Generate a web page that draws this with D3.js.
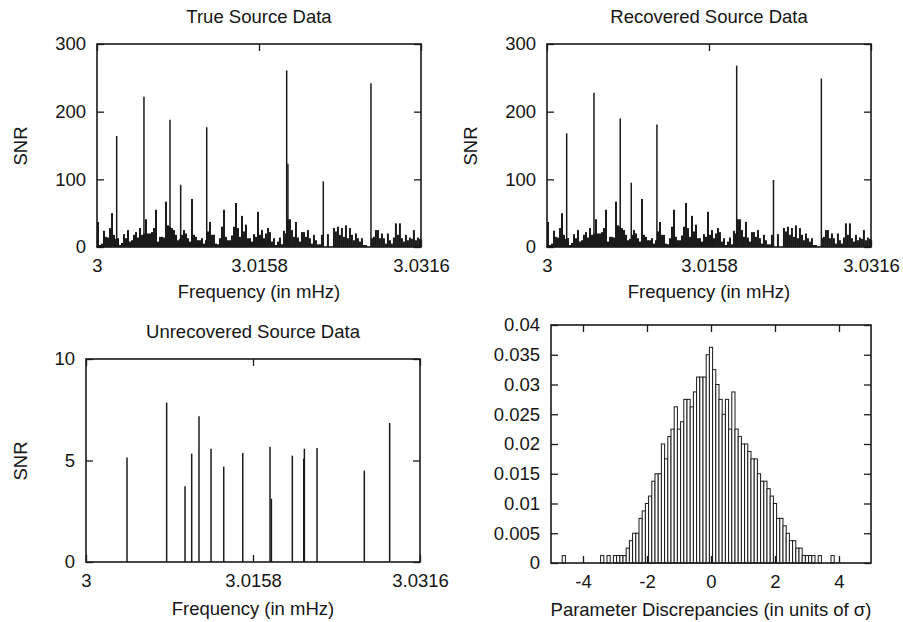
<!DOCTYPE html>
<html>
<head>
<meta charset="utf-8">
<script src="https://cdn.jsdelivr.net/npm/d3@7"></script>
<style>
  body { margin: 0; background: #fff; }
  text { font-family: "Liberation Sans", Arial, sans-serif; font-size: 18.5px; fill: #151515; }
</style>
</head>
<body>
<svg width="903" height="622"></svg>
<script>
// spectrum background: SNR per frequency bin (shared by true and recovered)
var noiseStart = 3.0001;
var noiseStep = 0.000195;
var noiseSNR = [37,3,5,24,15,14,28,50,18,12, 13,3,6,19,13,25,8,10,18,22,
  14,28,18,20,41,20,20,22,28,55, 8,15,15,14,67,32,30,28,25,18,
  10,12,18,25,20,13,8,71,18,15, 10,10,13,5,10,23,37,18,18,5,
  4,13,30,55,15,10,10,17,30,65, 28,15,46,23,33,13,13,8,19,15,
  52,18,25,13,20,28,22,8,13,3, 8,14,4,24,20,41,41,25,15,37,
  14,8,22,22,15,25,13,5,18,10, 4,4,18,0,0,19,0,0,28,23,
  30,18,28,15,32,13,28,18,10,20, 13,8,13,3,3,0,0,13,15,25,
  25,13,20,13,5,20,10,5,14,35, 18,35,13,8,18,10,14,12,25,10,
  14,12];

// bright sources
var truePeakFreq = [3.00192, 3.00458, 3.00712, 3.00816, 3.01070, 3.01850, 3.01862, 3.02207, 3.02672];
var truePeakSNR  = [164, 222, 188, 92, 177, 261, 123, 97, 242];
var recPeakFreq  = [3.00192, 3.00458, 3.00714, 3.00822, 3.01072, 3.01850, 3.02209, 3.02676];
var recPeakSNR   = [168, 228, 190, 95, 181, 268, 99, 249];

// unrecovered sources
var unrecFreq = [3.00388, 3.00763, 3.00937, 3.01000, 3.01069, 3.01183, 3.01303, 3.01483,
  3.01741, 3.01754, 3.01952, 3.02060, 3.02066, 3.02186, 3.02633, 3.02873];
var unrecSNR = [5.15, 7.85, 3.73, 5.34, 7.18, 5.58, 4.70, 5.37, 5.68, 3.12, 5.24, 5.09, 5.58, 5.62, 4.50, 6.85];

// histogram of parameter discrepancies (bin centres, width 0.1)
var histBin = [-4.6,-3.4,-3.2,-3.0,-2.9,-2.8,-2.7,-2.6,-2.5,-2.4,-2.3,-2.2,-2.1,-2.0,-1.9,-1.8,-1.7,-1.6,
  -1.5,-1.4,-1.3,-1.2,-1.1,-1.0,-0.9,-0.8,-0.7,-0.6,-0.5,-0.4,-0.3,-0.2,-0.1,0.0,
  0.1,0.2,0.3,0.4,0.5,0.6,0.7,0.8,0.9,1.0,1.1,1.2,1.3,1.4,1.5,1.6,1.7,1.8,1.9,2.0,
  2.1,2.2,2.3,2.4,2.5,2.6,2.7,2.8,2.9,3.0,3.1,3.2,3.4,3.8];
var histFreq = [0.00125,0.00125,0.00125,0.00125,0.00125,0.00125,0.00125,0.0025,0.00375,0.005,0.005,0.0075,0.00875,0.01,0.01125,0.01375,0.015,0.015,
  0.02,0.0175,0.02125,0.0225,0.02625,0.0225,0.02375,0.0275,0.0275,0.02625,0.02875,0.03125,0.03125,0.03125,0.035,0.03625,
  0.0325,0.03,0.0275,0.025,0.0275,0.0225,0.02875,0.0225,0.02125,0.02,0.02,0.01875,0.0175,0.0175,0.015,0.01375,0.01375,0.0125,0.01125,0.01,
  0.0075,0.0075,0.00625,0.005,0.00375,0.00375,0.0025,0.0025,0.00125,0.00125,0.00125,0.00125,0.00125,0.00125];
var histWidth = 0.1;

// tick labels
var freqTicks = [3, 3.0158, 3.0316];
var snrTicksBig = [0, 100, 200, 300];
var snrTicksSmall = [0, 5, 10];
var histXTicks = [-4, -2, 0, 2, 4];
var histYTicks = [0, 0.005, 0.01, 0.015, 0.02, 0.025, 0.03, 0.035, 0.04];

var svg = d3.select('svg');
var ink = '#1a1a1a';
var tickLen = 7;
var plain = function (d) { return String(d); };

function frame(x, y) {
  svg.append('rect')
    .attr('x', x.range()[0]).attr('y', y.range()[1])
    .attr('width', x.range()[1] - x.range()[0])
    .attr('height', y.range()[0] - y.range()[1])
    .attr('fill', 'none').attr('stroke', ink).attr('stroke-width', 1.6);
}

function axes(x, y, xt, yt) {
  var x0 = x.range()[0], x1 = x.range()[1], y0 = y.range()[0], y1 = y.range()[1];
  var list = [
    [d3.axisBottom(x).tickValues(xt).tickFormat(plain).tickPadding(12), 'translate(0,' + y0 + ')'],
    [d3.axisTop(x).tickValues(xt).tickFormat(''), 'translate(0,' + y1 + ')'],
    [d3.axisLeft(y).tickValues(yt).tickFormat(plain).tickPadding(11), 'translate(' + x0 + ',0)'],
    [d3.axisRight(y).tickValues(yt).tickFormat(''), 'translate(' + x1 + ',0)']
  ];
  list.forEach(function (a) {
    var g = svg.append('g')
      .attr('transform', a[1])
      .call(a[0].tickSizeInner(-tickLen).tickSizeOuter(0));
    g.select('.domain').remove();
    g.selectAll('line').attr('stroke', ink).attr('stroke-width', 1.3);
    g.selectAll('text').attr('fill', null);
    g.attr('font-size', null).attr('font-family', null);
  });
}

function labels(cx, title, titleY, xlab, xlabY, ylab, ylabX, ylabY) {
  if (title) {
    svg.append('text').attr('x', cx).attr('y', titleY)
      .style('text-anchor', 'middle').text(title);
  }
  svg.append('text').attr('x', cx).attr('y', xlabY)
    .style('text-anchor', 'middle').text(xlab);
  if (ylab) {
    svg.append('text')
      .attr('transform', 'translate(' + ylabX + ',' + ylabY + ') rotate(-90)')
      .style('text-anchor', 'middle').text(ylab);
  }
}

function spectrum(x, y, peakF, peakS) {
  var g = svg.append('g');
  g.selectAll('line.noise')
    .data(noiseSNR)
    .enter()
    .append('line')
    .attr('class', 'noise')
    .attr('x1', function (d, i) { return x(noiseStart + i * noiseStep); })
    .attr('x2', function (d, i) { return x(noiseStart + i * noiseStep); })
    .attr('y1', y(0))
    .attr('y2', function (d) { return y(d); })
    .attr('stroke', ink)
    .attr('stroke-width', 2);
  g.selectAll('line.peak')
    .data(peakF)
    .enter()
    .append('line')
    .attr('class', 'peak')
    .attr('x1', function (d) { return x(d); })
    .attr('x2', function (d) { return x(d); })
    .attr('y1', y(0))
    .attr('y2', function (d, i) { return y(peakS[i]); })
    .attr('stroke', ink)
    .attr('stroke-width', 1.5);
}

// top left: true source data
var xTL = d3.scaleLinear().domain([3, 3.0316]).range([97, 421]);
var yTL = d3.scaleLinear().domain([0, 300]).range([247, 44]);
spectrum(xTL, yTL, truePeakFreq, truePeakSNR);
frame(xTL, yTL);
axes(xTL, yTL, freqTicks, snrTicksBig);
labels(259, 'True Source Data', 23, 'Frequency (in mHz)', 298, 'SNR', 27, 146);

// top right: recovered source data
var xTR = d3.scaleLinear().domain([3, 3.0316]).range([547, 871]);
var yTR = d3.scaleLinear().domain([0, 300]).range([247, 44]);
spectrum(xTR, yTR, recPeakFreq, recPeakSNR);
frame(xTR, yTR);
axes(xTR, yTR, freqTicks, snrTicksBig);
labels(709, 'Recovered Source Data', 23, 'Frequency (in mHz)', 298, 'SNR', 477, 146);

// bottom left: unrecovered source data
var xBL = d3.scaleLinear().domain([3, 3.0316]).range([86, 420]);
var yBL = d3.scaleLinear().domain([0, 10]).range([562, 359]);
svg.append('g').selectAll('line')
  .data(unrecFreq)
  .enter()
  .append('line')
  .attr('x1', function (d) { return xBL(d); })
  .attr('x2', function (d) { return xBL(d); })
  .attr('y1', yBL(0))
  .attr('y2', function (d, i) { return yBL(unrecSNR[i]); })
  .attr('stroke', ink)
  .attr('stroke-width', 1.5);
frame(xBL, yBL);
axes(xBL, yBL, freqTicks, snrTicksSmall);
labels(253, 'Unrecovered Source Data', 338, 'Frequency (in mHz)', 615, 'SNR', 27, 461);

// bottom right: histogram of discrepancies
var xBR = d3.scaleLinear().domain([-5, 5]).range([551, 871]);
var yBR = d3.scaleLinear().domain([0, 0.04]).range([563, 325]);
svg.append('g').selectAll('rect')
  .data(histBin)
  .enter()
  .append('rect')
  .attr('x', function (d) { return xBR(d - histWidth / 2); })
  .attr('width', function (d) { return xBR(d + histWidth / 2) - xBR(d - histWidth / 2); })
  .attr('y', function (d, i) { return yBR(histFreq[i]); })
  .attr('height', function (d, i) { return yBR(0) - yBR(histFreq[i]); })
  .attr('fill', '#fff')
  .attr('stroke', ink)
  .attr('stroke-width', 1);
frame(xBR, yBR);
axes(xBR, yBR, histXTicks, histYTicks);
labels(711, null, 0, 'Parameter Discrepancies (in units of \u03c3)', 616, null);
</script>
</body>
</html>
